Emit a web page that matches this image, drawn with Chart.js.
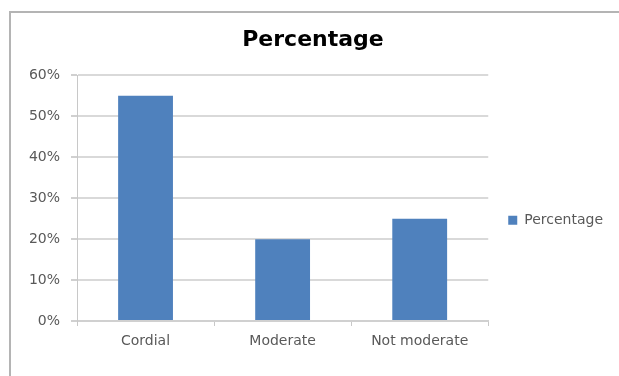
<!DOCTYPE html>
<html>
<head>
<meta charset="utf-8">
<script src="https://cdn.jsdelivr.net/npm/chart.js@4/dist/chart.umd.min.js"></script>
<style>
  html, body { margin: 0; padding: 0; background: #ffffff; }
  #wrap { position: relative; width: 619px; height: 376px; overflow: hidden; }
  #frame {
    position: absolute; left: 9px; top: 11px; width: 700px; height: 400px;
    border-left: 2px solid #b4b4b4; border-top: 2px solid #b4b4b4;
    box-sizing: border-box; pointer-events: none;
  }
  canvas { position: absolute; left: 0; top: 0; }
</style>
</head>
<body>
<div id="wrap">
  <div id="frame"></div>
  <canvas id="chart" width="619" height="376"></canvas>
</div>
<script>
// Share of responses per relationship category
const categories = ['Cordial', 'Moderate', 'Not moderate'];
const seriesName = 'Percentage';
const percentages = [0.55, 0.20, 0.25];
const yTicks = [0, 0.1, 0.2, 0.3, 0.4, 0.5, 0.6];

const FONT = "'DejaVu Sans', sans-serif";
const BAR_BLUE = '#4f81bd';

new Chart(document.getElementById('chart'), {
  type: 'bar',
  data: {
    labels: categories,
    datasets: [{
      label: seriesName,
      data: percentages,
      backgroundColor: BAR_BLUE,
      borderWidth: 0,
      barPercentage: 0.4,
      categoryPercentage: 1.0
    }]
  },
  options: {
    responsive: false,
    animation: false,
    devicePixelRatio: 1,
    layout: { padding: { left: 13, right: 6, top: 0, bottom: 0 } },
    plugins: {
      title: {
        display: true,
        text: seriesName,
        color: '#000000',
        font: { family: FONT, size: 22, weight: 'bold' },
        padding: { top: 27, bottom: 22 }
      },
      legend: {
        display: true,
        position: 'right',
        fullSize: false,
        align: 'center',
        title: { display: true, text: '', padding: { top: 44, bottom: 0 }, font: { size: 1, lineHeight: 0 } },
        labels: {
          boxWidth: 9,
          boxHeight: 9,
          padding: 20,
          color: '#595959',
          font: { family: FONT, size: 14 }
        }
      },
      tooltip: { enabled: false }
    },
    scales: {
      x: {
        grid: {
          display: true,
          drawOnChartArea: false,
          drawTicks: true,
          tickLength: 5,
          color: '#c8c8c8',
          offset: true
        },
        border: { display: true, color: '#d0d0d0', width: 2 },
        ticks: {
          color: '#595959',
          font: { family: FONT, size: 14 },
          padding: 7,
          maxRotation: 0
        },
        afterFit(scale) { scale.height = 55; }
      },
      y: {
        min: 0,
        max: 0.6,
        afterBuildTicks(scale) { scale.ticks = yTicks.map(v => ({ value: v })); },
        grid: {
          color: '#d9d9d9',
          lineWidth: 2,
          drawTicks: true,
          tickLength: 6,
          tickColor: '#d0d0d0'
        },
        border: { display: true, color: '#c8c8c8', width: 1 },
        ticks: {
          color: '#595959',
          font: { family: FONT, size: 14 },
          padding: 11,
          callback: v => Math.round(v * 100) + '%'
        },
        afterFit(scale) { scale.width = 64; }
      }
    }
  }
});
</script>
</body>
</html>
